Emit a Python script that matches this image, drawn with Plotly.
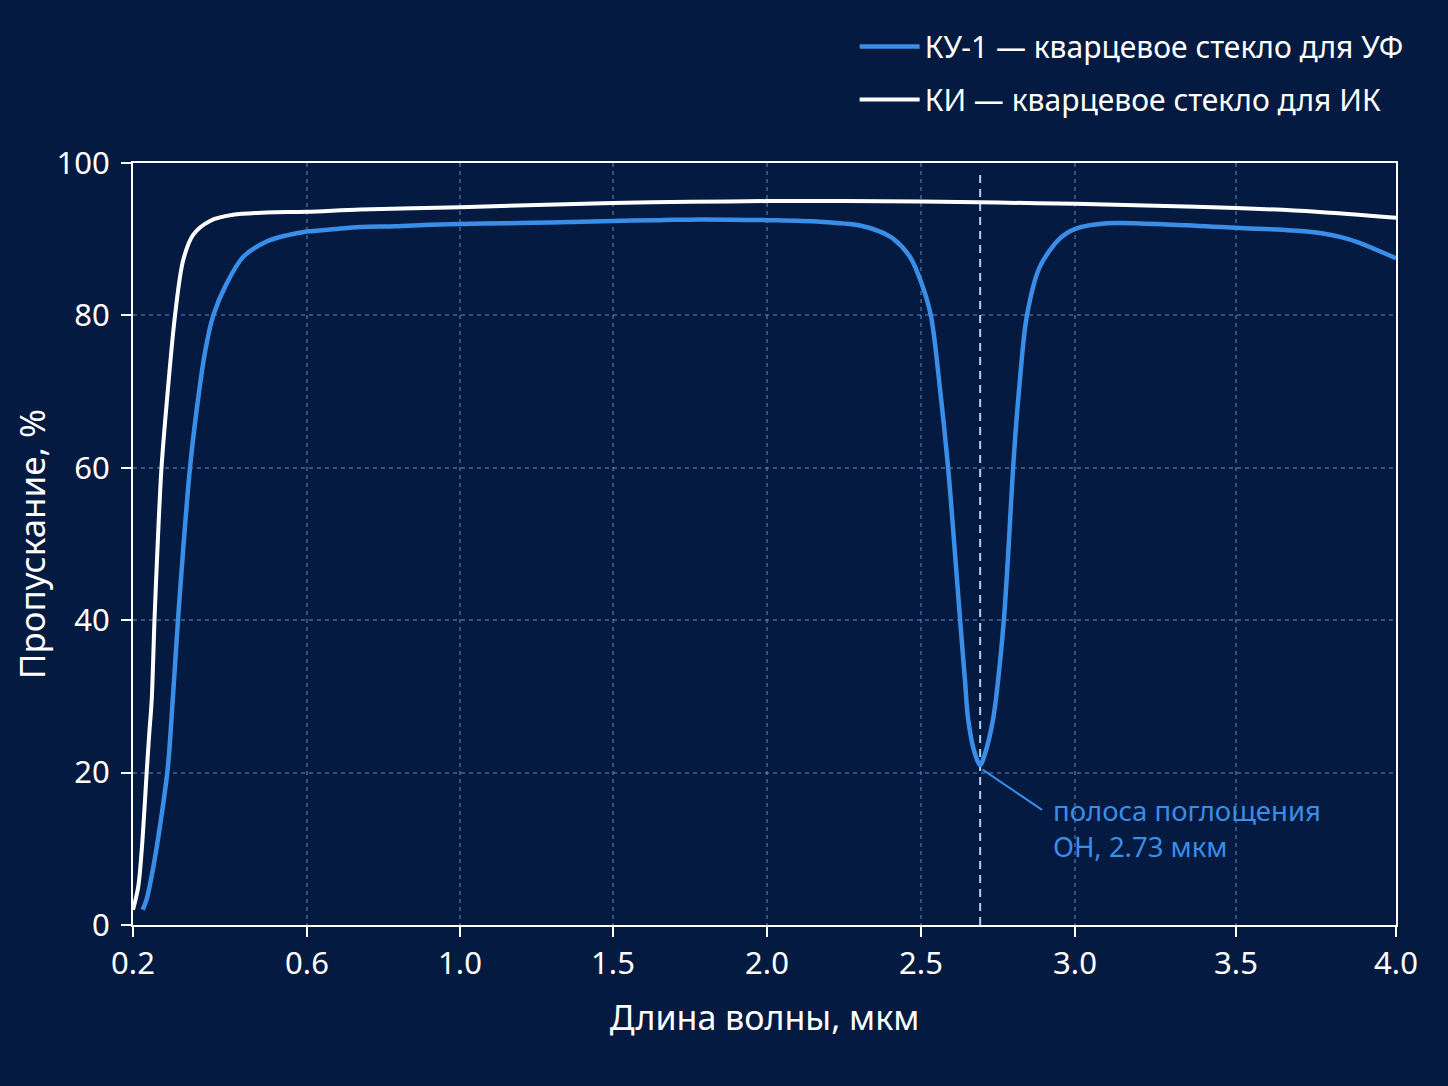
import numpy as np
import plotly.graph_objects as go

# ---------------- data ----------------
TICK_WL = [0.2, 0.6, 1.0, 1.5, 2.0, 2.5, 3.0, 3.5, 4.0]
TICK_TEXT = ["0.2", "0.6", "1.0", "1.5", "2.0", "2.5", "3.0", "3.5", "4.0"]
Y_TICKS = [0, 20, 40, 60, 80, 100]

# КИ — кварцевое стекло для ИК (white)
WL_KI = [0.200, 0.212, 0.220, 0.2276, 0.2315, 0.2375, 0.243, 0.2494, 0.2575, 0.2655, 0.2775,
         0.2966, 0.3156, 0.3386, 0.377, 0.430, 0.507, 0.600, 0.740, 1.0, 1.25,
         1.5, 1.75, 2.0, 2.25, 2.5, 2.75, 3.0, 3.25, 3.5, 3.75, 4.0]
T_KI = [2.0, 5.0, 9.8, 16.4, 20.1, 25.2, 29.5, 40.0, 51.0, 60.0, 68.5,
        80.0, 87.3, 90.6, 92.4, 93.2, 93.5, 93.6, 93.9, 94.2, 94.5,
        94.75, 94.9, 95.0, 95.0, 94.95, 94.8, 94.65, 94.4, 94.1, 93.6, 92.8]

# КУ-1 — кварцевое стекло для УФ (blue)
WL_KU = [0.2223, 0.2315, 0.2467, 0.2621, 0.2798, 0.2913, 0.3034, 0.3170, 0.3310, 0.3464, 0.3650, 0.3846,
         0.4154, 0.4536, 0.5074, 0.5534, 0.600, 0.668, 0.739, 0.830, 0.922, 1.0,
         1.15, 1.294, 1.5, 1.65, 1.782, 2.0, 2.172, 2.302, 2.367, 2.409,
         2.464, 2.502, 2.532, 2.560, 2.588, 2.608, 2.627, 2.643, 2.653, 2.675,
         2.692, 2.708, 2.734, 2.750, 2.769, 2.785, 2.799, 2.820, 2.844, 2.886,
         2.951, 3.003, 3.099, 3.304, 3.5, 3.722, 3.825, 3.888, 4.0]
T_KU = [2.0, 3.4, 7.6, 13.0, 20.5, 29.5, 40.0, 50.5, 60.0, 67.6, 75.0, 80.0,
        84.2, 87.7, 89.7, 90.5, 91.0, 91.3, 91.6, 91.7, 91.9, 92.0,
        92.1, 92.2, 92.4, 92.5, 92.6, 92.5, 92.3, 91.8, 91.0, 90.1,
        87.7, 84.2, 80.0, 71.0, 60.0, 50.0, 40.0, 32.0, 27.0, 22.5,
        21.0, 22.5, 27.0, 32.0, 40.0, 50.0, 60.0, 71.0, 80.0, 86.4,
        90.1, 91.4, 92.1, 91.9, 91.5, 91.0, 90.3, 89.5, 87.5]

OH_WL = 2.692      # position of the OH absorption dip on the drawn scale
OH_T = 21.0

NAME_KU = "КУ-1 — кварцевое стекло для УФ"
NAME_KI = "КИ — кварцевое стекло для ИК"
ANNOT_TEXT = "полоса поглощения<br>ОН, 2.73 мкм"

# ---------------- style ----------------
BG = "#041a40"
BLUE = "#3a8ee8"
WHITE = "#ffffff"
GRID = "rgba(110,150,210,0.45)"
FONT = "Noto Sans"

# segmented wavelength scale: tick values evenly-ish spaced along the axis
AXIS_POS = np.array([133, 307, 460, 613, 767, 921, 1075, 1236, 1396]) - 133.0


def to_axis(wl):
    return np.interp(wl, TICK_WL, AXIS_POS)


fig = go.Figure()
fig.add_trace(go.Scatter(
    x=to_axis(WL_KU), y=T_KU, mode="lines", name=NAME_KU, legendgroup="ku",
    line=dict(color=BLUE, width=4.5, shape="spline", smoothing=0.9),
))
fig.add_trace(go.Scatter(
    x=to_axis(WL_KI), y=T_KI, mode="lines", name=NAME_KI, legendgroup="ki",
    line=dict(color=WHITE, width=4, shape="spline", smoothing=0.9),
))

# dashed marker for OH band
fig.add_shape(type="line", xref="x", yref="y",
              x0=float(to_axis(OH_WL)), x1=float(to_axis(OH_WL)), y0=0, y1=99,
              line=dict(color="#a9d2f3", width=2, dash="8px,6px"), layer="below")

# connector and label
fig.add_shape(type="line", xref="x", yref="y",
              x0=float(to_axis(OH_WL + 0.008)), y0=OH_T - 0.6,
              x1=float(to_axis(2.893)), y1=15.1,
              line=dict(color=BLUE, width=2))
fig.add_annotation(x=float(to_axis(2.921)), y=12.6, xref="x", yref="y",
                   text=ANNOT_TEXT, showarrow=False, xanchor="left", yanchor="middle",
                   align="left", font=dict(family=FONT, size=27.5, color=BLUE))

fig.update_layout(
    width=1448, height=1086,
    margin=dict(l=133, r=52, t=163, b=161),
    paper_bgcolor=BG, plot_bgcolor=BG,
    font=dict(family=FONT, color=WHITE, size=31),
    showlegend=True,
    legend=dict(x=1.01, xanchor="right", y=1.187, yanchor="top",
                bgcolor="rgba(0,0,0,0)", font=dict(family=FONT, size=30, color=WHITE),
                tracegroupgap=11, itemwidth=60),
)

fig.update_xaxes(
    range=[0, AXIS_POS[-1]], tickmode="array", tickvals=list(to_axis(TICK_WL)),
    ticktext=TICK_TEXT, ticks="outside", ticklen=10, tickwidth=2, tickcolor=WHITE,
    showline=True, linecolor=WHITE, linewidth=2, mirror=True,
    showgrid=True, gridcolor=GRID, gridwidth=1.5, griddash="4px,4px",
    zeroline=False, ticklabelstandoff=0,
    tickfont=dict(family=FONT, size=31, color=WHITE),
    title=dict(text="Длина волны, мкм", font=dict(family=FONT, size=34, color=WHITE), standoff=24),
)
fig.update_yaxes(
    range=[0, 100], tickmode="array", tickvals=Y_TICKS, ticks="outside", ticklen=10,
    tickwidth=2, tickcolor=WHITE, showline=True, linecolor=WHITE, linewidth=2, mirror=True,
    showgrid=True, gridcolor=GRID, gridwidth=1.5, griddash="4px,4px",
    zeroline=False, ticklabelstandoff=5,
    tickfont=dict(family=FONT, size=31, color=WHITE),
    title=dict(text="Пропускание, %", font=dict(family=FONT, size=35, color=WHITE), standoff=0),
)

fig.write_html("out.html")
